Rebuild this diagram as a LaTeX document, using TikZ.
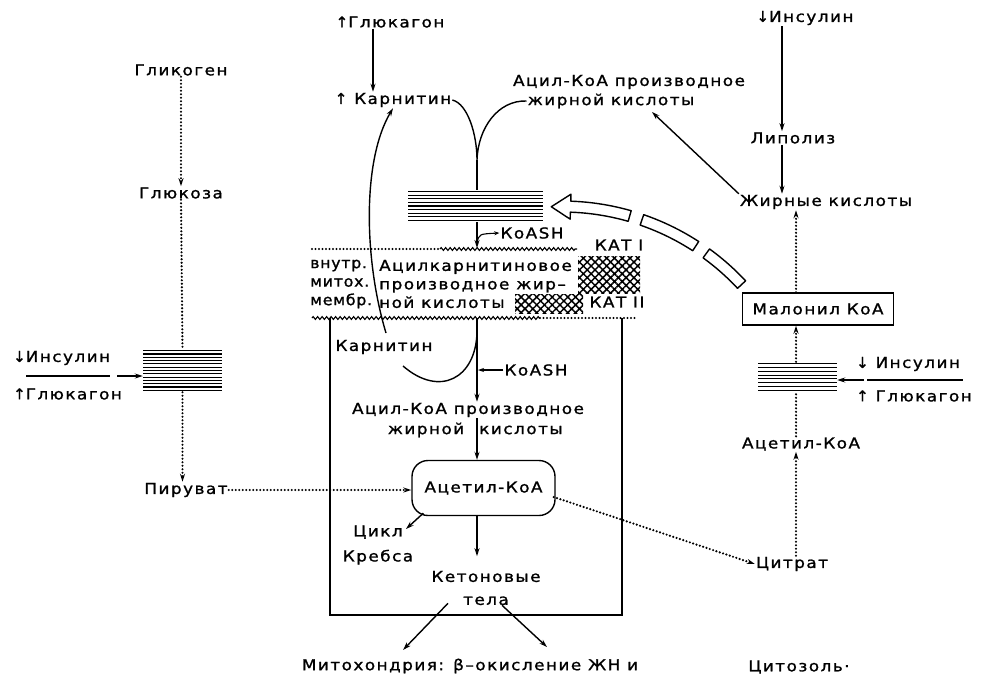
\documentclass[tikz,border=0pt]{standalone}
\usepackage{fontspec}
\setmainfont{DejaVu Sans}[LetterSpace=10, FakeStretch=1.12, FakeBold=1.2]
\newfontfamily\arrf{DejaVu Sans}[FakeBold=1.2]
\newfontfamily\memf{DejaVu Sans}[LetterSpace=5, FakeStretch=1.05, FakeBold=1.2]
\usetikzlibrary{arrows.meta,calc,decorations.pathmorphing,patterns.meta}
\newcommand\lblfont{\fontsize{15}{18.5}\selectfont}
\newcommand\memlblfont{\memf\fontsize{15}{18.5}\selectfont}
\begin{document}
\begin{tikzpicture}[x=1pt,y=-1pt,
  every node/.style={font=\lblfont, inner sep=1pt},
  arr/.style={line width=1.4pt, -{Stealth[length=8pt,width=5pt]}},
  ln/.style={line width=1.4pt},
  dots/.style={line width=2.4pt, line cap=round, dash pattern=on 0pt off 3.5pt},
  darr/.style={dots, -{Stealth[length=8pt,width=5pt]}},
  wavy/.style={line width=1.1pt, decorate, decoration={zigzag, amplitude=1.4pt, segment length=4.5pt}},
  hatch/.style={inner sep=0pt, path picture={
    \foreach \k in {1,...,#1}{
      \pgfmathsetmacro\fr{(\k-0.5)/#1}
      \draw[line width=1.2pt] ($(path picture bounding box.north west)!\fr!(path picture bounding box.south west)$) -- ($(path picture bounding box.north east)!\fr!(path picture bounding box.south east)$);
    }}},
  mesh/.style={inner sep=0pt, pattern={Hatch[angle=45,distance=5.5pt,line width=1.5pt]}},
  hollow/.style={line width=1.4pt, fill=white, line join=round}
]
\fill[white] (0,0) rectangle (982,686);
\useasboundingbox (0,0) rectangle (982,686);

% ---------- left column ----------
\node (glyc) at (181,70) {Гликоген};
\node (gluc) at (181,193) {Глюкоза};
\node[hatch=13, minimum width=79pt, minimum height=43pt] (lbox) at (182.5,370.5) {};
\node (pyr) at (186,490) {Пируват};
\node[anchor=west] (insL) at (12,358) {{\arrf↓}Инсулин};
\node[anchor=west] (glnL) at (12,394) {{\arrf↑}Глюкагон};
\coordinate (barL1) at (26,376);
\coordinate (barL2) at (110,376);
\coordinate (insLend) at (117,376);
\draw[ln] (barL1) -- (barL2);
\draw[arr] (insLend) -- (lbox.west |- insLend);
\draw[darr] (glyc) -- (gluc);
\draw[dots] (gluc.south) -- (lbox.north);
\draw[darr] (lbox.south) -- (lbox.south |- pyr.north);

% ---------- top centre ----------
\coordinate (colC) at (373,0);
\coordinate (valley) at (477,160);
\node (glnT) at (390,22) {{\arrf↑}Глюкагон};
\node (carT) at (393,100) {{\arrf↑} Карнитин};
\draw[arr] (glnT.south -| colC) -- (carT.north -| colC);
\node (acT1) at (629,82) {Ацил-КоА производное};
\node (acT2) at (611,101) {жирной кислоты};
\node[hatch=9, minimum width=135pt, minimum height=32pt] (tbox) at (475.5,206) {};
\draw[ln] (carT.east) .. controls (468,104) and (477,135) .. (valley)
          .. controls (478,128) and (498,100) .. (acT2.west);
\draw[ln] (valley) -- (tbox.north -| valley);
\coordinate (memtop) at (477,248);
\draw[arr] (tbox.south -| valley) -- (memtop);
\node (koa1) at (532,233) {КоАSH};
\coordinate (koa1s) at (477,243);
\draw[line width=1.1pt, -{Stealth[length=5pt,width=4pt]}] (koa1s) .. controls (479,234) .. (koa1.west);

% ---------- right column ----------
\coordinate (colR) at (782,0);
\coordinate (colR2) at (796,0);
\node (insR) at (805,18) {{\arrf↓}Инсулин};
\node (lipo) at (793,138) {Липолиз};
\node (fa) at (826,202) {Жирные кислоты};
\draw[arr] (insR.south -| colR) -- (lipo.north -| colR);
\draw[arr] (lipo.south -| colR) -- (fa.north -| colR);
\coordinate (faend) at (652,112);
\draw[arr] (fa.north west) -- (faend);
\node[draw, line width=1.4pt, minimum width=151pt, minimum height=32pt] (mal) at (818,309) {Малонил КоА};
\draw[darr] (mal.north -| colR2) -- (fa.south -| colR2);
\node[hatch=8, minimum width=79pt, minimum height=30pt] (rbox) at (797.5,377) {};
\draw[darr] (rbox.north -| colR2) -- (mal.south -| colR2);
\node (acR) at (801,444) {Ацетил-КоА};
\draw[dots] (acR.north -| colR2) -- (rbox.south -| colR2);
\node (cit) at (792,564) {Цитрат};
\draw[darr] (cit.north -| colR2) -- (acR.south -| colR2);
\node[anchor=west] (insR2) at (855,364) {{\arrf↓} Инсулин};
\node[anchor=west] (glnR2) at (855,396) {{\arrf↑} Глюкагон};
\coordinate (barR1) at (867,380);
\coordinate (barR2) at (963,380);
\coordinate (insR2end) at (864,380);
\draw[ln] (barR1) -- (barR2);
\draw[arr] (insR2end) -- (rbox.east |- insR2end);

% ---------- hollow dashed arrow (malonyl-CoA -> CAT I) ----------
\draw[hollow] plot[domain=-43:-54, samples=12] ({562+251*cos(\x)},{452+251*sin(\x)})
  -- plot[domain=-54:-43, samples=12] ({562+240*cos(\x)},{452+240*sin(\x)}) -- cycle;
\draw[hollow] plot[domain=-57:-71, samples=12] ({562+251*cos(\x)},{452+251*sin(\x)})
  -- plot[domain=-71:-57, samples=12] ({562+240*cos(\x)},{452+240*sin(\x)}) -- cycle;
\draw[hollow] plot[domain=-74:-88, samples=12] ({562+251*cos(\x)},{452+251*sin(\x)})
  -- ({562+258*cos(-88)},{452+258*sin(-88)})
  -- ({562+245.5*cos(-92.5)},{452+245.5*sin(-92.5)})
  -- ({562+233*cos(-88)},{452+233*sin(-88)})
  -- plot[domain=-88:-74, samples=12] ({562+240*cos(\x)},{452+240*sin(\x)}) -- cycle;

% ---------- membrane ----------
\draw[dots] (312,249) -- (440,249);
\draw[wavy] (440,249) -- (577,249);
\draw[wavy] (312,318) -- (540,318);
\draw[dots] (540,318) -- (635,318);
\node[mesh, minimum width=62pt, minimum height=37pt] (kat1m) at (609,275) {};
\node[mesh, minimum width=68pt, minimum height=19pt] (kat2m) at (549,303.5) {};
\node[anchor=west, align=left, font=\memlblfont] (meml) at (309,284) {внутр.\\митох.\\мембр.};
\node[anchor=west, align=left] (acc) at (378,284) {Ацилкарнитиновое\\производное жир–\\ной кислоты};
\node (kat1) at (619,245) {КАТ I};
\node (kat2) at (617,302) {КАТ II};

% ---------- mitochondrial matrix ----------
\draw[ln] (330,318) -- (330,615) -- (622,615) -- (622,318);
\node (carI) at (384,347) {Карнитин};
\coordinate (membot) at (477,318);
\coordinate (ubr) at (477,332);
\coordinate (uend) at (403,366);
\coordinate (lstart) at (386,333);
\draw[ln] (ubr) .. controls (476,378) and (440,398) .. (uend);
\draw[arr] (lstart) .. controls (364,260) and (362,160) .. (carT.south);
\node (acI1) at (468,410) {Ацил-КоА производное};
\node (acI2a) at (426,430) {жирной};
\node (acI2b) at (521,430) {кислоты};
\draw[arr] (membot) -- (acI1.north -| membot);
\node (koa2) at (536,370) {КоАSH};
\draw[line width=1.1pt, -{Stealth[length=6pt,width=4pt]}] (koa2.west) -- (478,370);
\node[draw, line width=1.4pt, rounded corners=16pt, minimum width=143pt, minimum height=55pt] (acet) at (483.5,488) {Ацетил-КоА};
\draw[arr] (acI1.south -| membot) -- (acet.north -| membot);
\draw[darr] (pyr.east) -- (acet.west |- pyr.east);
\node[align=center, font=\fontsize{15}{25}\selectfont] (krebs) at (378,545) {Цикл\\Кребса};
\coordinate (krebsin) at (406,529);
\draw[arr] ($(acet.south west)+(12,-3)$) -- (krebsin);
\node[align=center, font=\fontsize{15}{23}\selectfont] (keto) at (486,588) {Кетоновые\\тела};
\draw[arr] (acet.south -| membot) -- ++(0,40);
\coordinate (bl) at (403,650);
\coordinate (br) at (547,647);
\draw[arr] ($(keto.south)+(-38,-3)$) -- (bl);
\draw[arr] ($(keto.south)+(16,-1)$) -- (br);
\draw[darr] ($(acet.east)+(-2,9)$) -- (cit.west);

% ---------- bottom captions ----------
\node (mito) at (470,666) {Митохондрия: β–окисление ЖН и};
\node (cyto) at (799,667) {Цитозоль·};
\end{tikzpicture}
\end{document}
